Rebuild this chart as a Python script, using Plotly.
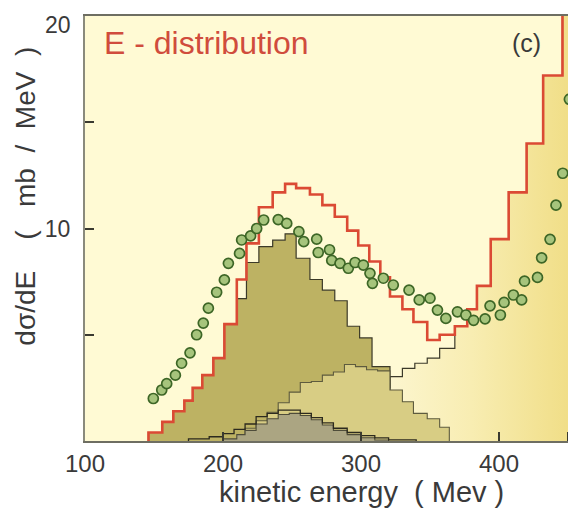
import plotly.graph_objects as go

# ---------------- data ----------------
# total (red) histogram
red_edges = [146, 156, 164, 172, 178, 185, 193, 201, 210, 217, 226, 236, 245, 253, 263, 272,
             281, 290, 298, 306, 314, 321, 330, 338, 348, 357, 368, 377, 384, 394, 407, 420,
             432, 446, 460]
red_vals = [0.4, 0.9, 1.4, 1.9, 2.5, 3.1, 3.9, 5.5, 7.6, 9.3, 11.0, 11.7, 12.1, 11.9, 11.6, 11.1,
            10.55, 9.9, 9.2, 8.45, 7.7, 6.8, 6.2, 5.6, 4.75, 5.0, 5.4, 6.2, 7.3, 9.5, 11.7, 14.0,
            17.2, 21.5]

# dark olive component (top = thin black line)
a_edges = [146, 156, 164, 172, 178, 185, 193, 201, 210, 217, 226, 236, 245, 253, 263, 272,
           281, 290, 299, 308, 321]
a_vals = [0.4, 0.9, 1.4, 1.9, 2.5, 3.1, 3.9, 5.5, 6.7, 8.4, 9.15, 9.45, 9.75, 8.6, 7.6, 7.1,
          6.6, 5.4, 4.85, 3.5]

# light olive component
b_edges = [216, 224, 232, 240, 248, 256, 264, 272, 280, 288, 296, 304, 312, 321, 330, 338,
           348, 357, 364]
b_vals = [0.6, 0.95, 1.35, 1.8, 2.3, 2.75, 2.8, 3.1, 3.25, 3.6, 3.5, 3.35, 3.3, 2.4, 1.85, 1.3,
          1.05, 0.65]

# rising high-energy component (gradient fill)
d_edges = [308, 321, 330, 339, 348, 357, 368, 377, 384, 394, 407, 420, 432, 446, 460]
d_vals = [2.5, 3.03, 3.42, 3.66, 3.9, 4.36, 5.4, 6.2, 7.3, 9.5, 11.7, 14.0, 17.2, 21.5]

# small grey components
c1_edges = [200, 210, 216, 224, 232, 240, 248, 256, 264, 272, 280, 290, 300, 310, 320]
c1_vals = [0.1, 0.3, 0.5, 0.8, 1.05, 1.25, 1.3, 1.2, 1.0, 0.75, 0.5, 0.3, 0.15, 0.05]

c2_edges = [175, 190, 200, 208, 216, 224, 232, 240, 248, 256, 264, 272, 280, 290, 300, 310,
            320, 340]
c2_vals = [0.1, 0.2, 0.35, 0.55, 0.8, 1.15, 1.3, 1.45, 1.45, 1.3, 1.1, 0.85, 0.6, 0.4, 0.25,
           0.15, 0.05]

# measured points
pts_e = [149.5, 155.6, 159.2, 165.5, 170.0, 176.1, 180.9, 185.7, 189.4, 195.4, 201.0, 203.9,
         212.0, 213.5, 220.0, 224.4, 229.5, 240.0, 246.2, 255.0, 258.5, 267.9, 269.0, 277.2,
         278.8, 284.8, 290.8, 295.7, 301.7, 306.5, 308.3, 316.2, 323.4, 334.8, 342.2, 350.0,
         355.4, 361.5, 369.9, 376.0, 381.6, 389.9, 393.5, 401.0, 403.7, 410.4, 416.4, 418.5,
         427.9, 430.9, 437.0, 441.3, 446.2, 451.0]
pts_v = [2.0, 2.4, 2.7, 3.1, 3.66, 4.15, 5.0, 5.55, 6.25, 7.0, 7.58, 8.36,
         8.83, 9.46, 9.65, 10.0, 10.4, 10.42, 10.24, 9.85, 9.38, 9.5, 8.87, 9.0,
         8.5, 8.36, 8.13, 8.4, 8.28, 7.89, 7.42, 7.66, 7.34, 7.1, 6.64, 6.72,
         6.16, 5.77, 6.08, 5.93, 5.68, 5.75, 6.36, 5.93, 6.52, 6.87, 6.64, 7.52,
         7.7, 8.62, 9.49, 11.1, 12.6, 16.08]

x_ticks = [100, 200, 300, 400, 450]
x_ticklabels = ["100", "200", "300", "400", ""]
y_ticks = [5, 10, 15, 20]
y_ticklabels = ["", "10", "", ""]
y_top_label = "20"


def steps(edges, vals):
    """closed histogram outline for line_shape='hv'"""
    xs = [edges[0]] + list(edges) + [edges[-1]]
    ys = [0] + list(vals) + [vals[-1], 0]
    return xs, ys


FONT = "Liberation Sans, Arial, Helvetica, sans-serif"
fig = go.Figure()

# gradient filled rising component
x, y = steps(d_edges, d_vals)
fig.add_trace(go.Scatter(
    x=x, y=y, mode="lines", line=dict(shape="hv", color="#3c3a2a", width=1.2),
    fill="tozeroy",
    fillgradient=dict(type="horizontal", start=318, stop=456,
                      colorscale=[[0, "#FCF6D0"], [0.45, "#F8EDB2"], [1, "#F0DD84"]]),
    hoverinfo="skip", showlegend=False))

# dark olive component
x, y = steps(a_edges, a_vals)
fig.add_trace(go.Scatter(
    x=x, y=y, mode="lines", line=dict(shape="hv", color="#3c3a28", width=1.2),
    fill="tozeroy", fillcolor="#BDB263", hoverinfo="skip", showlegend=False))

# light olive component
x, y = steps(b_edges, b_vals)
fig.add_trace(go.Scatter(
    x=x, y=y, mode="lines", line=dict(shape="hv", color="#5e5b3e", width=1.1),
    fill="tozeroy", fillcolor="#D8CD84", hoverinfo="skip", showlegend=False))

# grey component
x, y = steps(c1_edges, c1_vals)
fig.add_trace(go.Scatter(
    x=x, y=y, mode="lines", line=dict(shape="hv", color="#4e4c3a", width=1.1),
    fill="tozeroy", fillcolor="#ABA582", hoverinfo="skip", showlegend=False))

# outline component
x, y = steps(c2_edges, c2_vals)
fig.add_trace(go.Scatter(
    x=x, y=y, mode="lines", line=dict(shape="hv", color="#2c2a1e", width=1.3),
    hoverinfo="skip", showlegend=False))

# total (red)
x, y = steps(red_edges, red_vals)
fig.add_trace(go.Scatter(
    x=x, y=y, mode="lines", line=dict(shape="hv", color="#DB4A34", width=2.6),
    hoverinfo="skip", showlegend=False))

# data points
fig.add_trace(go.Scatter(
    x=pts_e, y=pts_v, mode="markers",
    marker=dict(symbol="circle", size=10, color="#A6C47C",
                line=dict(color="#3D6626", width=1.7)),
    showlegend=False))

fig.add_annotation(text="E - distribution", xref="x", yref="y", x=112.5, y=18.75,
                   xanchor="left", yanchor="middle", showarrow=False,
                   font=dict(family=FONT, size=32, color="#D04C3C"))
fig.add_annotation(text="(c)", xref="x", yref="y", x=420, y=18.75,
                   xanchor="center", yanchor="middle", showarrow=False,
                   font=dict(family=FONT, size=25, color="#3a3a3a"))
fig.add_annotation(text=y_top_label, xref="paper", yref="y", x=0, xshift=-12, y=20, yshift=-9,
                   xanchor="right", yanchor="middle", showarrow=False,
                   font=dict(family=FONT, size=23, color="#3a3a3a"))
fig.add_annotation(text="kinetic energy\u00a0\u00a0(\u00a0Mev\u00a0)", xref="x", yref="paper",
                   x=300, y=0, yshift=-51, xanchor="center", yanchor="middle",
                   showarrow=False, font=dict(family=FONT, size=29, color="#3a3a3a"))
fig.add_annotation(text="d\u03c3/dE\u00a0\u00a0\u00a0\u00a0(\u00a0\u00a0\u00a0mb\u00a0\u00a0/\u00a0\u00a0MeV\u00a0\u00a0)",
                   xref="paper", yref="y", x=0, xshift=-59, y=11.5,
                   textangle=-90, xanchor="center", yanchor="middle", showarrow=False,
                   font=dict(family=FONT, size=28, color="#3a3a3a"))

# the page body adds an 8 px offset, so the figure is 8 px smaller and margins compensate
fig.update_layout(
    width=568, height=502,
    margin=dict(l=77, r=0, t=8, b=69, autoexpand=False),
    paper_bgcolor="white", plot_bgcolor="#FFFAD4",
    font=dict(family=FONT, color="#3a3a3a"),
    showlegend=False,
)
fig.update_xaxes(range=[100, 455.8], tickvals=x_ticks, ticktext=x_ticklabels,
                 automargin=False,
                 ticks="inside", ticklen=9, tickwidth=1.5, tickcolor="#3a3a30",
                 showgrid=False, zeroline=False, showline=True, mirror=True,
                 linecolor="#6e6e62", linewidth=2,
                 tickfont=dict(family=FONT, size=24, color="#3a3a3a"))
fig.update_yaxes(range=[0, 20], tickvals=y_ticks, ticktext=y_ticklabels,
                 automargin=False,
                 ticks="inside", ticklen=9, tickwidth=1.5, tickcolor="#3a3a30",
                 showgrid=False, zeroline=False, showline=True, mirror=False,
                 linecolor="#8a8a7c", linewidth=2, ticklabelstandoff=8,
                 tickfont=dict(family=FONT, size=23, color="#3a3a3a"))

fig.write_html("out.html")
